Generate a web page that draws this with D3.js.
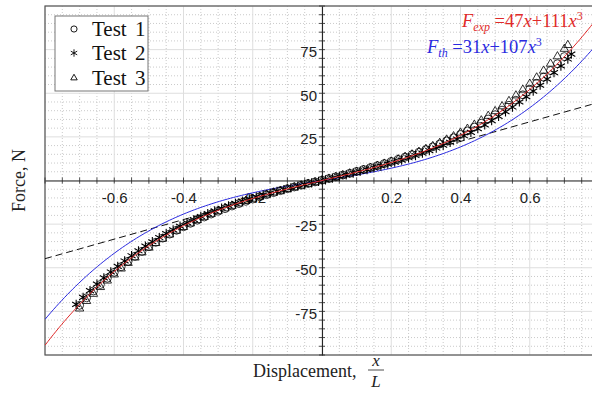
<!DOCTYPE html>
<html>
<head>
<meta charset="utf-8">
<script src="https://cdn.jsdelivr.net/npm/d3@7"></script>
<style>
  body { margin: 0; background: #fff; }
  svg { display: block; }
</style>
</head>
<body>
<div id="graphicContainer"></div>
<script>
const Width = 592, Height = 394;
const Margin = { t: 6, r: -7, b: 39, l: 45 };

// measured data, three tests
const test1X = [-0.70,-0.68,-0.66,-0.64,-0.62,-0.60,-0.58,-0.56,-0.54,-0.52,-0.50,-0.48,-0.46,-0.44,-0.42,-0.40,-0.38,-0.36,-0.34,-0.32,-0.30,-0.28,-0.26,-0.24,-0.22,-0.20,-0.18,-0.16,-0.14,-0.12,-0.10,-0.08,-0.06,-0.04,-0.02,0.00,0.02,0.04,0.06,0.08,0.10,0.12,0.14,0.16,0.18,0.20,0.22,0.24,0.26,0.28,0.30,0.32,0.34,0.36,0.38,0.40,0.42,0.44,0.46,0.48,0.50,0.52,0.54,0.56,0.58,0.60,0.62,0.64,0.66,0.68,0.70];
const test1F = [-71.5,-67.2,-63.3,-59.6,-56.0,-52.6,-49.4,-46.3,-43.4,-40.6,-37.9,-35.4,-33.0,-30.7,-28.5,-26.5,-24.5,-22.7,-20.9,-19.2,-17.6,-16.1,-14.6,-13.2,-11.9,-10.6,-9.3,-8.1,-6.9,-5.8,-4.7,-3.7,-2.7,-1.7,-0.8,0.2,1.1,2.1,3.1,4.1,5.2,6.3,7.4,8.5,9.7,10.9,12.1,13.4,14.8,16.2,17.7,19.3,20.9,22.7,24.5,26.4,28.4,30.6,32.8,35.2,37.7,40.3,43.1,46.0,49.1,52.3,55.7,59.2,63.0,66.9,71.0];

const test2X = [-0.71,-0.69,-0.67,-0.65,-0.63,-0.61,-0.59,-0.57,-0.55,-0.53,-0.51,-0.49,-0.47,-0.45,-0.43,-0.41,-0.39,-0.37,-0.35,-0.33,-0.31,-0.29,-0.27,-0.25,-0.23,-0.21,-0.19,-0.17,-0.15,-0.13,-0.11,-0.09,-0.07,-0.05,-0.03,-0.01,0.01,0.03,0.05,0.07,0.09,0.11,0.13,0.15,0.17,0.19,0.21,0.23,0.25,0.27,0.29,0.31,0.33,0.35,0.37,0.39,0.41,0.43,0.45,0.47,0.49,0.51,0.53,0.55,0.57,0.59,0.61,0.63,0.65,0.67,0.69,0.71,0.72];
const test2F = [-71.0,-67.0,-63.1,-59.4,-55.8,-52.4,-49.2,-46.1,-43.1,-40.3,-37.6,-35.1,-32.7,-30.4,-28.3,-26.2,-24.2,-22.4,-20.6,-19.0,-17.4,-15.9,-14.5,-13.1,-11.8,-10.6,-9.4,-8.3,-7.2,-6.2,-5.2,-4.2,-3.2,-2.3,-1.4,-0.5,0.4,1.4,2.3,3.2,4.2,5.2,6.2,7.2,8.3,9.4,10.5,11.7,13.0,14.3,15.7,17.1,18.6,20.2,21.9,23.7,25.6,27.6,29.7,31.9,34.3,36.7,39.4,42.1,45.0,48.0,51.2,54.6,58.1,61.8,65.6,69.6,72.4];

const test3X = [-0.70,-0.68,-0.66,-0.64,-0.62,-0.60,-0.58,-0.56,-0.54,-0.52,-0.50,-0.48,-0.46,-0.44,-0.42,-0.40,-0.38,-0.36,-0.34,-0.32,-0.30,-0.28,-0.26,-0.24,-0.22,-0.20,-0.18,-0.16,-0.14,-0.12,-0.10,-0.08,-0.06,-0.04,-0.02,0.00,0.02,0.04,0.06,0.08,0.10,0.12,0.14,0.16,0.18,0.20,0.22,0.24,0.26,0.28,0.30,0.32,0.34,0.36,0.38,0.40,0.42,0.44,0.46,0.48,0.50,0.52,0.54,0.56,0.58,0.60,0.62,0.64,0.66,0.68,0.70,0.71];
const test3F = [-73.4,-69.1,-65.0,-61.1,-57.4,-53.9,-50.5,-47.3,-44.2,-41.3,-38.5,-35.9,-33.4,-31.0,-28.8,-26.7,-24.6,-22.7,-20.9,-19.2,-17.6,-16.0,-14.6,-13.2,-11.8,-10.5,-9.3,-8.1,-6.9,-5.9,-4.9,-3.9,-2.9,-1.9,-1.0,0.0,1.0,2.0,3.0,4.0,5.0,6.1,7.2,8.4,9.6,10.8,12.1,13.5,14.9,16.4,18.0,19.7,21.5,23.4,25.3,27.4,29.6,31.9,34.4,37.0,39.7,42.5,45.5,48.7,52.0,55.4,59.0,62.9,66.9,71.1,75.4,77.6];

const legendNames = ['Test 1', 'Test 2', 'Test 3'];

// fitted curves F = a*x + b*x^3
const expCoef = [47, 111];
const thCoef = [31, 107];
const dashSlope = 56;

const xTicks = [-0.6, -0.4, -0.2, 0.2, 0.4, 0.6];
const yTicks = [-75, -50, -25, 25, 50, 75];

const xDomain = [-0.8, 0.8], yDomain = [-100, 100];

const mainColor = '#262626';
const redColor = '#e02a2a';
const blueColor = '#2a2ae0';

const svg = d3.select('#graphicContainer').append('svg')
  .attr('width', Width)
  .attr('height', Height);

const x = d3.scaleLinear().domain(xDomain).range([Margin.l, Width - Margin.r]);
const y = d3.scaleLinear().domain(yDomain).range([Height - Margin.b, Margin.t]);

svg.append('clipPath').attr('id', 'plotClip')
  .append('rect')
  .attr('x', x(xDomain[0])).attr('y', y(yDomain[1]))
  .attr('width', x(xDomain[1]) - x(xDomain[0]))
  .attr('height', y(yDomain[0]) - y(yDomain[1]));

// grid
const gridG = svg.append('g').attr('class', 'grid');
const xMinor = d3.range(-16, 17).map(i => i * 0.05).filter(v => Math.abs(Math.round(v * 100)) % 20 !== 0);
const xMajor = d3.range(-4, 5).map(i => i * 0.2);
const yMinor = d3.range(-20, 21).map(i => i * 5).filter(v => v % 25 !== 0);
const yMajor = d3.range(-4, 5).map(i => i * 25);

gridG.selectAll('.xMinor').data(xMinor).enter().append('line')
  .attr('x1', d => x(d)).attr('x2', d => x(d))
  .attr('y1', y(yDomain[0])).attr('y2', y(yDomain[1]))
  .attr('stroke', '#bdbdbd').attr('stroke-width', 0.8).attr('stroke-dasharray', '1 2');
gridG.selectAll('.yMinor').data(yMinor).enter().append('line')
  .attr('y1', d => y(d)).attr('y2', d => y(d))
  .attr('x1', x(xDomain[0])).attr('x2', x(xDomain[1]))
  .attr('stroke', '#bdbdbd').attr('stroke-width', 0.8).attr('stroke-dasharray', '1 2');
gridG.selectAll('.xMajor').data(xMajor).enter().append('line')
  .attr('x1', d => x(d)).attr('x2', d => x(d))
  .attr('y1', y(yDomain[0])).attr('y2', y(yDomain[1]))
  .attr('stroke', '#dedede').attr('stroke-width', 1);
gridG.selectAll('.yMajor').data(yMajor).enter().append('line')
  .attr('y1', d => y(d)).attr('y2', d => y(d))
  .attr('x1', x(xDomain[0])).attr('x2', x(xDomain[1]))
  .attr('stroke', '#dedede').attr('stroke-width', 1);

// box
svg.append('rect')
  .attr('x', x(xDomain[0])).attr('y', y(yDomain[1]))
  .attr('width', x(xDomain[1]) - x(xDomain[0]))
  .attr('height', y(yDomain[0]) - y(yDomain[1]))
  .attr('fill', 'none').attr('stroke', '#555').attr('stroke-width', 1.2);

// axes through origin, plain hyphen for minus
const hyphen = f => d => f(d).replace('\u2212', '-');
const xAxis = d3.axisBottom(x).tickValues(xTicks).tickFormat(hyphen(d3.format('.1f'))).tickSize(0).tickPadding(12);
const yAxis = d3.axisLeft(y).tickValues(yTicks).tickFormat(hyphen(d3.format('d'))).tickSize(0).tickPadding(5);

const xAxisG = svg.append('g').attr('class', 'xAxis')
  .attr('transform', `translate(0, ${y(0)})`).call(xAxis);
const yAxisG = svg.append('g').attr('class', 'yAxis')
  .attr('transform', `translate(${x(0)}, 0)`).call(yAxis);
[xAxisG, yAxisG].forEach(g => {
  g.select('.domain').attr('stroke', mainColor).attr('stroke-width', 1.1);
  g.selectAll('text').attr('fill', '#222').attr('font-family', 'Liberation Sans, Arial, sans-serif').attr('font-size', 15);
});
yAxisG.selectAll('text').attr('dy', '0.45em');

// small tick marks along the axes
const tickG = svg.append('g').attr('class', 'ticks');
tickG.selectAll('.xt').data(xMinor.concat(xMajor)).enter().append('line')
  .attr('x1', d => x(d)).attr('x2', d => x(d))
  .attr('y1', y(0) - 3).attr('y2', y(0) + 3)
  .attr('stroke', mainColor).attr('stroke-width', 0.8);
tickG.selectAll('.yt').data(yMinor.concat(yMajor)).enter().append('line')
  .attr('y1', d => y(d)).attr('y2', d => y(d))
  .attr('x1', x(0) - 3).attr('x2', x(0) + 3)
  .attr('stroke', mainColor).attr('stroke-width', 0.8);

// curves
const plotG = svg.append('g').attr('clip-path', 'url(#plotClip)');
const xs = d3.range(0, 201).map(i => xDomain[0] + i * (xDomain[1] - xDomain[0]) / 200);
const line = d3.line().x(d => x(d[0])).y(d => y(d[1]));

plotG.append('path')
  .attr('d', line(xDomain.map(v => [v, dashSlope * v])))
  .attr('fill', 'none').attr('stroke', '#111').attr('stroke-width', 1)
  .attr('stroke-dasharray', '7 4');
plotG.append('path')
  .attr('d', line(xs.map(v => [v, thCoef[0] * v + thCoef[1] * v * v * v])))
  .attr('fill', 'none').attr('stroke', blueColor).attr('stroke-width', 1);

// data markers
const symCircle = d3.symbol().type(d3.symbolCircle).size(50);
const symStar = d3.symbol().type(d3.symbolAsterisk).size(60);
const symTri = d3.symbol().type(d3.symbolTriangle2).size(50);

function drawSeries(xArr, fArr, sym, cls, sw) {
  plotG.selectAll('.' + cls).data(xArr.map((v, i) => [v, fArr[i]])).enter()
    .append('path').attr('class', cls)
    .attr('transform', d => `translate(${x(d[0])}, ${y(d[1])})`)
    .attr('d', sym)
    .attr('fill', 'none').attr('stroke', '#000').attr('stroke-width', sw);
}
drawSeries(test1X, test1F, symCircle, 'test1', 0.8);
drawSeries(test2X, test2F, symStar, 'test2', 1.1);
drawSeries(test3X, test3F, symTri, 'test3', 0.8);

plotG.append('path')
  .attr('d', line(xs.map(v => [v, expCoef[0] * v + expCoef[1] * v * v * v])))
  .attr('fill', 'none').attr('stroke', redColor).attr('stroke-width', 1);

// equations
const eqFont = 'Liberation Serif, Times New Roman, serif';
function equation(px, py, color, sub, coef) {
  const t = svg.append('text').attr('x', px).attr('y', py)
    .attr('fill', color).attr('font-family', eqFont).attr('font-size', 18.5);
  t.append('tspan').attr('font-style', 'italic').text('F');
  t.append('tspan').attr('font-style', 'italic').attr('font-size', 12).attr('dy', 4).text(sub);
  t.append('tspan').attr('dy', -4).text(' =' + coef[0]);
  t.append('tspan').attr('font-style', 'italic').text('x');
  t.append('tspan').text('+' + coef[1]);
  t.append('tspan').attr('font-style', 'italic').text('x');
  t.append('tspan').attr('font-size', 12).attr('dy', -7).text('3');
}
equation(462, 27, redColor, 'exp', expCoef);
equation(427, 53, blueColor, 'th', thCoef);

// legend
const legG = svg.append('g').attr('class', 'legend');
legG.append('rect').attr('x', 55).attr('y', 16).attr('width', 93).attr('height', 75)
  .attr('fill', '#fff').attr('stroke', '#777').attr('stroke-width', 1);
const legSyms = [
  d3.symbol().type(d3.symbolCircle).size(30),
  d3.symbol().type(d3.symbolAsterisk).size(38),
  d3.symbol().type(d3.symbolTriangle2).size(30)
];
const legY = [29, 53, 78];
legendNames.forEach((name, i) => {
  legG.append('path').attr('transform', `translate(74, ${legY[i]})`)
    .attr('d', legSyms[i]).attr('fill', 'none').attr('stroke', '#000').attr('stroke-width', 0.9);
  legG.append('text').attr('x', 92).attr('y', legY[i] + 6.5)
    .attr('font-family', eqFont).attr('font-size', 21).attr('fill', '#111')
    .style('word-spacing', '3px').text(name);
});

// axis labels
svg.append('text')
  .attr('transform', `translate(25, ${y(0)}) rotate(-90)`)
  .attr('text-anchor', 'middle')
  .attr('font-family', eqFont).attr('font-size', 18).attr('fill', '#222')
  .text('Force, N');

svg.append('text').attr('x', 253).attr('y', 377)
  .attr('font-family', eqFont).attr('font-size', 18).attr('fill', '#222')
  .text('Displacement,');
svg.append('text').attr('x', 376).attr('y', 366).attr('text-anchor', 'middle')
  .attr('font-family', eqFont).attr('font-style', 'italic').attr('font-size', 17).attr('fill', '#222')
  .text('x');
svg.append('line').attr('x1', 368).attr('x2', 384).attr('y1', 370).attr('y2', 370)
  .attr('stroke', '#222').attr('stroke-width', 0.8);
svg.append('text').attr('x', 376).attr('y', 387).attr('text-anchor', 'middle')
  .attr('font-family', eqFont).attr('font-style', 'italic').attr('font-size', 17).attr('fill', '#222')
  .text('L');
</script>
</body>
</html>
